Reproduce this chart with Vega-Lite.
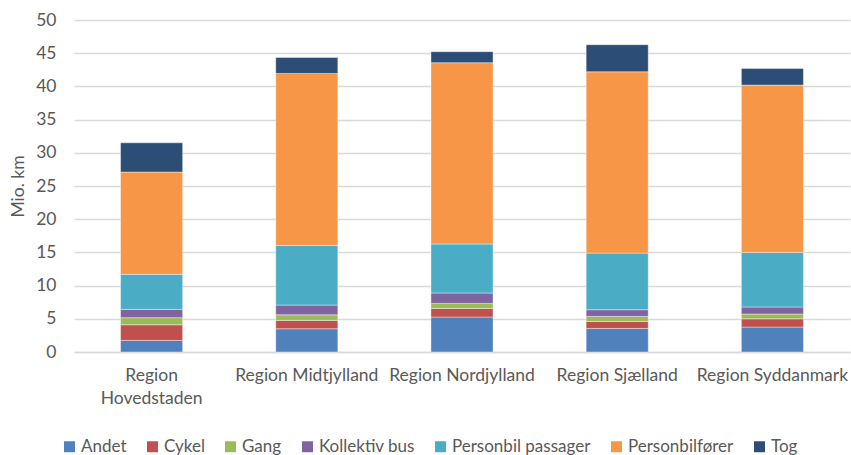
{
  "$schema": "https://vega.github.io/schema/vega-lite/v6.json",
  "width": 776,
  "height": 332,
  "autosize": "none",
  "padding": {"left": 74, "top": 20, "right": 1, "bottom": 103},
  "background": "white",
  "config": {
    "font": "Lato",
    "view": {"stroke": null},
    "axis": {"labelFont": "Lato", "titleFont": "Lato", "labelColor": "#595959", "titleColor": "#595959"},
    "legend": {"labelFont": "Lato"}
  },
  "data": {
    "values": [
      {"region": "Region Hovedstaden", "mode": "Andet", "km": 1.75},
      {"region": "Region Hovedstaden", "mode": "Cykel", "km": 2.35},
      {"region": "Region Hovedstaden", "mode": "Gang", "km": 1.07},
      {"region": "Region Hovedstaden", "mode": "Kollektiv bus", "km": 1.25},
      {"region": "Region Hovedstaden", "mode": "Personbil passager", "km": 5.28},
      {"region": "Region Hovedstaden", "mode": "Personbilfører", "km": 15.4},
      {"region": "Region Hovedstaden", "mode": "Tog", "km": 4.4},
      {"region": "Region Midtjylland", "mode": "Andet", "km": 3.5},
      {"region": "Region Midtjylland", "mode": "Cykel", "km": 1.26},
      {"region": "Region Midtjylland", "mode": "Gang", "km": 0.84},
      {"region": "Region Midtjylland", "mode": "Kollektiv bus", "km": 1.47},
      {"region": "Region Midtjylland", "mode": "Personbil passager", "km": 8.98},
      {"region": "Region Midtjylland", "mode": "Personbilfører", "km": 25.9},
      {"region": "Region Midtjylland", "mode": "Tog", "km": 2.4},
      {"region": "Region Nordjylland", "mode": "Andet", "km": 5.27},
      {"region": "Region Nordjylland", "mode": "Cykel", "km": 1.3},
      {"region": "Region Nordjylland", "mode": "Gang", "km": 0.75},
      {"region": "Region Nordjylland", "mode": "Kollektiv bus", "km": 1.57},
      {"region": "Region Nordjylland", "mode": "Personbil passager", "km": 7.38},
      {"region": "Region Nordjylland", "mode": "Personbilfører", "km": 27.3},
      {"region": "Region Nordjylland", "mode": "Tog", "km": 1.66},
      {"region": "Region Sjælland", "mode": "Andet", "km": 3.55},
      {"region": "Region Sjælland", "mode": "Cykel", "km": 1.05},
      {"region": "Region Sjælland", "mode": "Gang", "km": 0.76},
      {"region": "Region Sjælland", "mode": "Kollektiv bus", "km": 1.01},
      {"region": "Region Sjælland", "mode": "Personbil passager", "km": 8.53},
      {"region": "Region Sjælland", "mode": "Personbilfører", "km": 27.3},
      {"region": "Region Sjælland", "mode": "Tog", "km": 4.08},
      {"region": "Region Syddanmark", "mode": "Andet", "km": 3.76},
      {"region": "Region Syddanmark", "mode": "Cykel", "km": 1.24},
      {"region": "Region Syddanmark", "mode": "Gang", "km": 0.72},
      {"region": "Region Syddanmark", "mode": "Kollektiv bus", "km": 1.06},
      {"region": "Region Syddanmark", "mode": "Personbil passager", "km": 8.22},
      {"region": "Region Syddanmark", "mode": "Personbilfører", "km": 25.2},
      {"region": "Region Syddanmark", "mode": "Tog", "km": 2.5}
    ]
  },
  "mark": {"type": "bar", "stroke": "#ffffff", "strokeWidth": 0.8, "strokeOpacity": 0.5},
  "encoding": {
    "x": {
      "field": "region",
      "type": "nominal",
      "sort": null,
      "scale": {"paddingInner": 0.6, "paddingOuter": 0.3},
      "axis": {
        "title": null,
        "labelAngle": 0,
        "labelFontSize": 17.5,
        "labelLineHeight": 23,
        "labelPadding": 14.5,
        "labelLimit": 300,
        "ticks": false,
        "domain": true,
        "domainColor": "#d9d9d9",
        "domainWidth": 1.3,
        "labelExpr": "datum.value == 'Region Hovedstaden' ? ['Region', 'Hovedstaden'] : datum.value"
      }
    },
    "y": {
      "field": "km",
      "type": "quantitative",
      "aggregate": "sum",
      "stack": "zero",
      "scale": {"domain": [0, 50], "nice": false},
      "axis": {
        "title": "Mio. km",
        "titleFontSize": 17.5,
        "titleFontWeight": "normal",
        "titlePadding": 8,
        "labelFontSize": 17.5,
        "labelPadding": 18,
        "values": [0, 5, 10, 15, 20, 25, 30, 35, 40, 45, 50],
        "ticks": false,
        "domain": false,
        "grid": true,
        "gridColor": "#d9d9d9",
        "gridWidth": 1.3
      }
    },
    "color": {
      "field": "mode",
      "type": "nominal",
      "scale": {
        "domain": ["Andet", "Cykel", "Gang", "Kollektiv bus", "Personbil passager", "Personbilfører", "Tog"],
        "range": ["#4F81BD", "#C0504D", "#9BBB59", "#8064A2", "#4BACC6", "#F79646", "#2C4D75"]
      },
      "legend": {
        "title": null,
        "orient": "none",
        "direction": "horizontal",
        "legendX": -13,
        "legendY": 418,
        "symbolType": "square",
        "symbolSize": 121,
        "symbolStrokeWidth": 0,
        "labelFontSize": 17,
        "labelColor": "#595959",
        "labelOffset": 3,
        "columnPadding": 17,
        "labelLimit": 300
      }
    },
    "order": {"field": "mode", "sort": "ascending"}
  }
}
